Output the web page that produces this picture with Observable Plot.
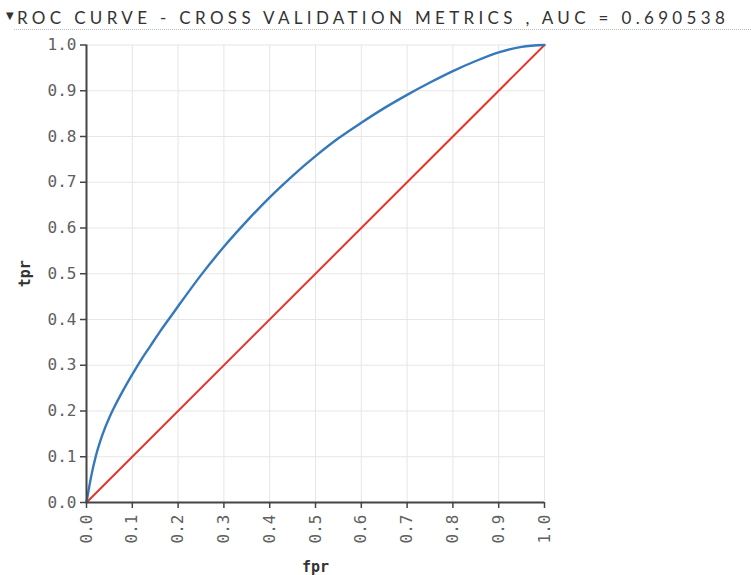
<!DOCTYPE html>
<html>
<head>
<meta charset="utf-8">
<script src="https://cdn.jsdelivr.net/npm/d3@7"></script>
<script src="https://cdn.jsdelivr.net/npm/@observablehq/plot@0.6"></script>
<style>
  html, body { margin: 0; padding: 0; background: #fff; }
  #title {
    position: relative; height: 35px; width: 751px; box-sizing: border-box;
  }
  #title .tri {
    position: absolute; left: 6px; top: 10px;
    font-family: "DejaVu Sans", sans-serif; font-size: 10px; color: #333;
  }
  #title .txt {
    position: absolute; left: 17px; top: 7px;
    font-family: Lato, "Open Sans", sans-serif; font-size: 17px; color: #333;
    letter-spacing: 4.33px; white-space: nowrap;
  }
  #title .rule {
    position: absolute; left: 14px; right: 0; top: 29px;
    border-top: 1px dotted #bbb;
  }
  #chart svg { display: block; }
</style>
</head>
<body>
<div id="title"><span class="tri">▼</span><span class="txt">ROC CURVE - CROSS VALIDATION METRICS , AUC = 0.690538</span><div class="rule"></div></div>
<div id="chart"></div>
<script>
// ROC curve
const fpr = [0, 0.01, 0.02, 0.03, 0.04, 0.05, 0.06, 0.08, 0.1, 0.12, 0.14, 0.16, 0.18, 0.2, 0.25, 0.3, 0.35, 0.4, 0.45, 0.5, 0.55, 0.6, 0.65, 0.7, 0.75, 0.8, 0.85, 0.9, 0.95, 1.0];
const tpr = [0, 0.056, 0.1, 0.134, 0.162, 0.186, 0.207, 0.245, 0.28, 0.313, 0.343, 0.373, 0.401, 0.429, 0.497, 0.559, 0.615, 0.667, 0.714, 0.757, 0.796, 0.83, 0.862, 0.891, 0.918, 0.943, 0.965, 0.984, 0.996, 1.0];
// chance diagonal
const diagX = [0, 1];
const diagY = [0, 1];
const xTicks = [0, 0.1, 0.2, 0.3, 0.4, 0.5, 0.6, 0.7, 0.8, 0.9, 1.0];
const yTicks = [0, 0.1, 0.2, 0.3, 0.4, 0.5, 0.6, 0.7, 0.8, 0.9, 1.0];
const xLabel = "fpr";
const yLabel = "tpr";

const roc = fpr.map((f, i) => ({fpr: f, tpr: tpr[i]}));
const diag = diagX.map((f, i) => ({fpr: f, tpr: diagY[i]}));
const fmt = d => d.toFixed(1);

const mono = "'DejaVu Sans Mono', 'Liberation Mono', monospace";

const chart = Plot.plot({
  width: 751,
  height: 540,
  marginTop: 9.5,
  marginBottom: 73,
  marginLeft: 86,
  marginRight: 207,
  x: {domain: [0, 1]},
  y: {domain: [0, 1]},
  style: {fontFamily: mono, fontSize: "16px", color: "#555", background: "#fff"},
  marks: [
    Plot.gridX(xTicks, {stroke: "#e6e6e6", strokeOpacity: 1, strokeWidth: 1}),
    Plot.gridY(yTicks, {stroke: "#e6e6e6", strokeOpacity: 1, strokeWidth: 1}),
    Plot.line(diag, {x: "fpr", y: "tpr", stroke: "#e8352b", strokeWidth: 2}),
    Plot.line(roc, {x: "fpr", y: "tpr", stroke: "#3579ba", strokeWidth: 2.4, curve: "monotone-x"}),
    Plot.ruleX([0], {stroke: "#444", strokeWidth: 2}),
    Plot.ruleY([0], {stroke: "#444", strokeWidth: 2}),
    Plot.axisX(xTicks, {tickFormat: fmt, tickRotate: -90, tickSize: 6, tickPadding: 6, stroke: "#444", strokeWidth: 1.5, fill: "#606060", label: null, fontSize: 16, letterSpacing: 0.9}),
    Plot.axisY(yTicks, {tickFormat: fmt, tickSize: 6, tickPadding: 4, stroke: "#444", strokeWidth: 1.5, fill: "#606060", label: null, fontSize: 16, letterSpacing: 0.9}),
    Plot.text([xLabel], {text: d => d, frameAnchor: "bottom", lineAnchor: "middle", textAnchor: "middle", dy: 65, fontWeight: "bold", fontSize: 15, fill: "#333"}),
    Plot.text([yLabel], {text: d => d, frameAnchor: "left", textAnchor: "middle", lineAnchor: "middle", dx: -61, rotate: -90, fontWeight: "bold", fontSize: 15, fill: "#333"})
  ]
});
document.getElementById("chart").appendChild(chart);
</script>
</body>
</html>
